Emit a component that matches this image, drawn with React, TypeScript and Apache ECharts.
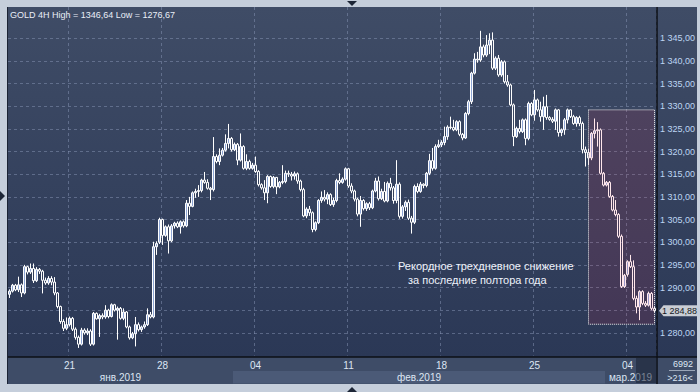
import React, { useEffect, useRef } from "react";
import * as echarts from "echarts";

// Each bar: [open, close, low, high]  (GOLD, 4H)
const week0 = [
  [1288.5, 1289.2, 1287.7, 1289.6], [1289.2, 1290.5, 1288.9, 1290.8], [1290.5, 1289.5, 1289.2, 1290.8],
  [1289.5, 1290.6, 1289.0, 1292.4], [1290.6, 1288.8, 1287.9, 1290.9], [1288.8, 1294.6, 1288.5, 1295.0],
  [1294.6, 1293.4, 1292.9, 1294.8], [1293.4, 1294.2, 1293.0, 1295.3], [1294.2, 1291.5, 1291.0, 1295.3],
  [1291.5, 1294.0, 1291.2, 1294.5], [1294.0, 1293.6, 1293.0, 1294.3], [1293.6, 1291.6, 1288.7, 1293.9],
  [1291.6, 1291.0, 1290.6, 1292.2], [1291.0, 1292.0, 1290.6, 1292.5], [1292.0, 1291.2, 1290.5, 1292.5],
  [1291.2, 1288.8, 1288.3, 1292.3], [1288.8, 1285.8, 1285.4, 1289.0], [1285.8, 1282.5, 1282.0, 1286.0],
  [1282.5, 1281.0, 1280.4, 1283.0], [1281.0, 1281.8, 1280.6, 1283.4],
];
const week1 = [
  [1281.8, 1283.2, 1281.4, 1283.6], [1283.2, 1280.8, 1280.4, 1283.5], [1280.8, 1279.0, 1278.5, 1281.2],
  [1279.0, 1277.5, 1276.67, 1279.4], [1277.5, 1280.6, 1277.2, 1281.1], [1280.6, 1280.0, 1279.6, 1281.0],
  [1280.0, 1280.4, 1279.5, 1281.0], [1280.4, 1277.5, 1277.1, 1280.8], [1277.5, 1284.3, 1277.2, 1284.6],
  [1284.3, 1283.1, 1282.9, 1284.5], [1283.1, 1283.8, 1279.1, 1284.2], [1283.8, 1283.5, 1283.0, 1284.3],
  [1283.5, 1285.0, 1283.1, 1286.1], [1285.0, 1283.6, 1283.2, 1285.3], [1283.6, 1286.2, 1283.4, 1286.5],
  [1286.2, 1285.0, 1284.7, 1286.4], [1285.0, 1285.4, 1278.5, 1285.8], [1285.4, 1283.2, 1282.9, 1285.7],
  [1283.2, 1284.6, 1282.8, 1285.4], [1284.6, 1281.3, 1281.0, 1284.8], [1281.3, 1278.9, 1278.5, 1281.6],
  [1278.9, 1279.8, 1278.6, 1280.2], [1279.8, 1281.8, 1277.0, 1283.5], [1281.8, 1280.7, 1280.3, 1282.3],
  [1280.7, 1281.3, 1280.2, 1281.6], [1281.3, 1281.8, 1280.9, 1282.5], [1281.8, 1284.0, 1281.5, 1285.4],
  [1284.0, 1283.5, 1283.2, 1284.6], [1283.5, 1299.0, 1283.2, 1300.1], [1299.0, 1299.7, 1297.2, 1300.2],
  [1300.0, 1305.0, 1299.6, 1305.4],
];
const week2 = [
  [1305.0, 1301.5, 1299.4, 1305.2], [1301.5, 1303.4, 1301.2, 1303.7], [1303.4, 1300.3, 1297.5, 1303.9],
  [1300.3, 1303.6, 1300.0, 1304.0], [1303.6, 1304.2, 1303.0, 1304.5], [1304.2, 1303.4, 1303.1, 1304.6],
  [1303.4, 1304.5, 1301.9, 1304.8], [1304.5, 1303.6, 1303.2, 1304.8], [1303.6, 1308.6, 1303.3, 1309.3],
  [1308.6, 1307.9, 1306.0, 1310.0], [1307.9, 1310.9, 1307.7, 1311.2], [1310.9, 1311.2, 1309.8, 1311.8],
  [1311.2, 1311.4, 1310.0, 1312.6], [1311.4, 1313.7, 1311.0, 1314.0], [1313.7, 1313.2, 1312.9, 1315.5],
  [1313.2, 1311.9, 1311.6, 1313.9], [1311.9, 1311.6, 1309.3, 1312.2], [1311.6, 1318.9, 1311.2, 1323.2],
  [1318.9, 1317.8, 1317.4, 1319.4], [1317.8, 1319.2, 1317.0, 1320.7], [1319.2, 1320.3, 1318.9, 1320.8],
  [1320.3, 1321.8, 1320.0, 1323.8], [1321.8, 1322.9, 1320.7, 1326.1], [1322.9, 1320.4, 1320.0, 1323.2],
  [1320.4, 1321.6, 1320.1, 1322.0], [1321.6, 1318.1, 1317.0, 1321.9], [1318.1, 1321.1, 1317.8, 1324.0],
  [1321.1, 1316.3, 1316.0, 1321.4], [1316.3, 1317.8, 1315.9, 1319.4], [1317.8, 1316.3, 1316.0, 1318.2],
  [1316.3, 1317.0, 1316.0, 1317.5],
];
const week3 = [
  [1317.0, 1315.6, 1315.3, 1318.9], [1315.6, 1312.7, 1312.3, 1315.9], [1312.7, 1312.0, 1311.6, 1313.0],
  [1312.0, 1310.9, 1309.3, 1313.7], [1310.9, 1314.5, 1308.6, 1314.8], [1314.5, 1312.3, 1312.0, 1314.7],
  [1312.3, 1314.3, 1311.9, 1314.6], [1314.3, 1312.2, 1310.6, 1314.4], [1312.2, 1313.2, 1311.9, 1313.5],
  [1313.2, 1313.4, 1312.8, 1317.0], [1313.4, 1315.2, 1313.0, 1315.8], [1315.2, 1315.0, 1314.4, 1315.8],
  [1315.0, 1314.6, 1313.6, 1315.5], [1314.6, 1315.1, 1313.8, 1315.6], [1315.1, 1313.5, 1312.9, 1315.4],
  [1313.5, 1311.6, 1311.2, 1313.8], [1311.6, 1305.8, 1305.5, 1312.0], [1305.8, 1307.3, 1305.3, 1307.7],
  [1307.3, 1306.5, 1305.8, 1308.0], [1306.5, 1302.8, 1302.2, 1306.8], [1302.8, 1304.3, 1302.4, 1304.6],
  [1304.3, 1309.2, 1304.0, 1309.5], [1309.2, 1309.9, 1308.7, 1311.2], [1309.9, 1309.5, 1309.0, 1311.5],
  [1309.5, 1310.5, 1308.4, 1311.0], [1310.5, 1308.3, 1308.0, 1310.8], [1308.3, 1309.2, 1307.8, 1309.8],
  [1309.2, 1313.6, 1308.8, 1314.0], [1313.6, 1313.2, 1312.8, 1315.2], [1313.2, 1313.9, 1312.9, 1314.3],
  [1313.9, 1316.2, 1313.6, 1316.5],
];
const week4 = [
  [1316.2, 1312.4, 1312.0, 1316.4], [1312.4, 1311.3, 1310.8, 1313.0], [1311.3, 1309.5, 1309.0, 1311.6],
  [1309.5, 1306.2, 1305.7, 1309.8], [1306.2, 1309.2, 1303.4, 1310.2], [1309.2, 1307.4, 1307.0, 1309.5],
  [1307.4, 1308.5, 1306.9, 1308.8], [1308.5, 1307.6, 1307.1, 1308.9], [1307.6, 1311.3, 1307.3, 1311.6],
  [1311.3, 1313.5, 1311.0, 1314.2], [1313.5, 1309.6, 1309.2, 1314.5], [1309.6, 1311.2, 1309.3, 1311.8],
  [1311.2, 1309.1, 1308.8, 1313.3], [1309.1, 1313.0, 1308.8, 1313.4], [1313.0, 1312.0, 1311.4, 1314.2],
  [1312.0, 1309.2, 1308.5, 1312.4], [1309.2, 1312.8, 1308.6, 1318.1], [1312.8, 1305.7, 1305.2, 1313.2],
  [1305.7, 1307.8, 1305.2, 1308.2], [1307.8, 1308.8, 1306.9, 1309.2], [1308.8, 1305.3, 1304.9, 1309.4],
  [1305.3, 1304.4, 1301.9, 1305.8], [1304.4, 1312.3, 1304.0, 1312.7], [1312.3, 1311.2, 1310.8, 1313.0],
  [1311.2, 1312.8, 1310.9, 1313.3], [1312.8, 1312.5, 1311.9, 1313.0], [1312.5, 1315.2, 1312.1, 1315.5],
  [1315.2, 1318.0, 1314.8, 1319.5], [1318.0, 1316.3, 1315.8, 1320.8], [1316.3, 1321.1, 1316.0, 1321.6],
  [1321.1, 1321.5, 1320.8, 1322.6],
];
const week5 = [
  [1321.5, 1322.0, 1321.0, 1322.5], [1322.0, 1323.3, 1321.4, 1325.5], [1323.3, 1325.4, 1322.6, 1325.8],
  [1325.4, 1325.3, 1324.9, 1327.7], [1325.3, 1324.8, 1324.5, 1327.0], [1324.8, 1326.6, 1324.5, 1326.9],
  [1326.6, 1323.8, 1323.4, 1326.9], [1323.8, 1323.0, 1322.5, 1324.1], [1323.0, 1328.4, 1322.8, 1328.7],
  [1328.4, 1331.0, 1328.0, 1331.4], [1331.0, 1337.3, 1330.5, 1337.6], [1337.3, 1340.4, 1337.0, 1341.7],
  [1340.4, 1340.2, 1339.6, 1342.0], [1340.2, 1343.1, 1339.8, 1346.64], [1343.1, 1341.3, 1340.8, 1343.6],
  [1341.3, 1343.5, 1340.9, 1345.7], [1343.5, 1344.6, 1341.5, 1346.1], [1344.6, 1338.4, 1338.0, 1346.3],
  [1338.4, 1340.6, 1338.0, 1341.0], [1340.6, 1336.9, 1336.5, 1341.3], [1336.9, 1339.8, 1336.5, 1340.2],
  [1339.8, 1335.4, 1335.0, 1340.1], [1335.4, 1334.7, 1334.3, 1336.9], [1334.7, 1330.3, 1330.0, 1335.0],
  [1330.3, 1323.3, 1321.2, 1330.6], [1323.3, 1325.1, 1323.0, 1325.5], [1325.1, 1324.4, 1324.0, 1327.0],
  [1324.4, 1327.0, 1324.1, 1327.3], [1327.0, 1322.9, 1321.4, 1327.3], [1322.9, 1330.6, 1322.5, 1331.0],
  [1330.6, 1328.1, 1327.8, 1330.9],
];
const week6 = [
  [1328.1, 1331.4, 1326.8, 1333.6], [1331.4, 1329.2, 1328.8, 1331.7], [1329.2, 1327.7, 1326.6, 1331.0],
  [1327.7, 1329.9, 1324.8, 1332.1], [1329.9, 1327.5, 1327.0, 1332.5], [1327.5, 1327.1, 1326.8, 1327.8],
  [1327.1, 1326.7, 1326.3, 1327.6], [1326.7, 1329.2, 1324.8, 1329.5], [1329.2, 1324.2, 1323.3, 1329.4],
  [1324.2, 1324.8, 1323.4, 1325.1], [1324.8, 1327.0, 1323.7, 1327.4], [1327.0, 1329.2, 1326.2, 1329.5],
  [1329.2, 1327.7, 1327.4, 1329.3], [1327.7, 1326.2, 1325.9, 1328.1], [1326.2, 1327.5, 1325.5, 1327.8],
  [1327.5, 1326.2, 1325.6, 1327.9], [1326.2, 1320.4, 1319.6, 1326.6], [1320.4, 1319.8, 1316.7, 1321.1],
  [1319.8, 1318.6, 1317.0, 1320.6], [1318.6, 1324.0, 1318.1, 1324.3], [1324.0, 1324.6, 1322.9, 1327.3],
  [1324.6, 1324.8, 1321.1, 1326.5], [1324.8, 1315.2, 1314.9, 1325.1], [1315.2, 1312.6, 1312.3, 1315.5],
  [1312.6, 1313.2, 1312.3, 1313.5], [1313.2, 1310.1, 1309.8, 1313.5], [1310.1, 1307.1, 1306.8, 1310.4],
  [1307.1, 1306.1, 1305.7, 1309.3], [1306.1, 1301.3, 1300.9, 1306.4], [1301.3, 1290.2, 1289.9, 1301.7],
  [1290.2, 1292.7, 1289.9, 1293.0],
];
const week7 = [
  [1292.9, 1295.7, 1292.4, 1296.0], [1295.7, 1294.6, 1294.3, 1297.2], [1294.6, 1287.6, 1287.2, 1296.0],
  [1287.6, 1285.7, 1284.3, 1288.2], [1285.7, 1289.1, 1282.8, 1289.4], [1289.1, 1286.5, 1286.1, 1289.4],
  [1286.5, 1286.1, 1285.7, 1287.0], [1286.1, 1288.7, 1285.8, 1289.1], [1288.7, 1285.4, 1285.0, 1289.0],
  [1285.4, 1284.88, 1284.5, 1285.8],
];

const bars = [...week0, ...week1, ...week2, ...week3, ...week4, ...week5, ...week6, ...week7];
const categories = bars.map((_, i) => String(i));

const weekStartIdx = [20, 51, 82, 113, 144, 175, 206];
const weekLabels = ["21", "28", "04", "11", "18", "25", "04"];
const monthStartIdx = [0, 75, 199];
const monthLabels = ["янв.2019", "фев.2019", "мар.2019"];
const yTicks = [1280, 1285, 1290, 1295, 1300, 1305, 1310, 1315, 1320, 1325, 1330, 1335, 1340, 1345];
const lastPrice = 1284.88;
const titleText = "GOLD 4H High = 1346,64 Low = 1276,67";
const boxFromIdx = 193;
const boxToIdx = 215;
const boxHigh = 1329.2;
const boxLow = 1281.9;
const noteLines = ["Рекордное трехдневное снижение", "за последние полтора года"];
const totalBars = "6992";
const visibleBars = ">216<";

const FONT = "'Liberation Sans', Arial, sans-serif";

const fmtPrice = (v: number) => {
  const s = v.toFixed(2);
  const [ip, dp] = s.split(".");
  return ip.slice(0, ip.length - 3) + " " + ip.slice(-3) + "," + dp;
};

const PL = 8;
const PT = 7;
const PW = 648;
const PH = 348.5;
const FRAME_R = 697;
const AXIS_Y = 357;
const AXIS_B = 384;
const SEP_X = 657;

export default function App() {
  const ref = useRef<HTMLDivElement>(null);

  useEffect(() => {
    if (!ref.current) return;
    const chart = echarts.init(ref.current, null, { renderer: "svg" });

    const option: any = {
      animation: false,
      backgroundColor: "#c5cedb",
      grid: { left: PL, top: PT, width: PW, height: PH, containLabel: false },
      xAxis: {
        type: "category",
        data: categories,
        boundaryGap: true,
        axisLine: { show: false },
        axisTick: { show: false },
        axisLabel: {
          interval: (idx: number) => weekStartIdx.includes(idx),
          formatter: (_v: string, idx: number) => weekLabels[weekStartIdx.indexOf(idx)] ?? "",
          color: "#dde6f3",
          fontSize: 10,
          fontFamily: FONT,
          margin: 5,
        },
        splitLine: {
          show: true,
          interval: (idx: number) => weekStartIdx.includes(idx),
          lineStyle: { color: "rgba(135,150,182,0.5)", type: [3, 3], width: 1 },
        },
      },
      yAxis: {
        type: "value",
        position: "right",
        min: 1275,
        max: 1351.9,
        interval: 5,
        scale: true,
        axisLine: { show: false },
        axisTick: { show: false },
        splitLine: { show: false },
        axisLabel: {
          formatter: (v: number) =>
            yTicks.some((t) => Math.abs(t - v) < 0.01) && Math.abs(v - lastPrice) > 2 ? fmtPrice(v) : "",
          color: "#bdd6f3",
          fontSize: 9,
          fontFamily: FONT,
          margin: 4,
          showMinLabel: true,
          showMaxLabel: true,
        },
      },
      series: [
        {
          type: "candlestick",
          data: bars,
          barWidth: 2,
          itemStyle: {
            color: "#8ea6d6",
            color0: "rgba(0,0,0,0)",
            borderColor: "#ffffff",
            borderColor0: "#ffffff",
            borderWidth: 1,
          },
          markLine: {
            z: 1,
            silent: true,
            symbol: ["none", "none"],
            label: { show: false },
            lineStyle: { color: "rgba(135,150,182,0.5)", type: [3, 3], width: 1 },
            data: yTicks.map((v) => ({ yAxis: v })),
          },
          markArea: {
            z: 5,
            silent: true,
            itemStyle: {
              color: "rgba(255,40,70,0.11)",
              borderColor: "#f2f2f2",
              borderWidth: 1,
              borderType: [1, 1],
            },
            label: { show: false },
            data: [[
              { xAxis: categories[boxFromIdx], yAxis: boxHigh },
              { xAxis: categories[boxToIdx], yAxis: boxLow },
            ]],
          },
        },
      ],
    };

    chart.setOption(option);

    const cx = (i: number) => chart.convertToPixel({ xAxisIndex: 0 }, i) as number;
    const py = (v: number) => chart.convertToPixel({ yAxisIndex: 0 }, v) as number;
    const half = (cx(1) - cx(0)) / 2;
    const n = bars.length;

    const grad = () =>
      new echarts.graphic.LinearGradient(0, 0, 0, 1, [
        { offset: 0, color: "#3f4c66" },
        { offset: 1, color: "#2b3856" },
      ]);

    const txt = (text: string, x: number, y: number, font: string, fill: string, align = "left", z = 60) => ({
      type: "text",
      z,
      style: { text, x, y, fill, font, align, verticalAlign: "middle", textAlign: align, textVerticalAlign: "middle" },
    });

    const els: any[] = [];
    els.push({ type: "rect", z: -10, shape: { x: PL, y: PT, width: SEP_X - PL, height: AXIS_Y - PT }, style: { fill: grad() } });
    els.push({ type: "rect", z: -10, shape: { x: SEP_X, y: PT, width: FRAME_R - SEP_X, height: AXIS_Y - PT }, style: { fill: grad() } });
    els.push({ type: "rect", z: -10, shape: { x: PL, y: AXIS_Y, width: FRAME_R - PL, height: AXIS_B - AXIS_Y }, style: { fill: "#3e4c67" } });

    monthStartIdx.forEach((start, k) => {
      const x0 = cx(start) - half;
      const x1 = k < monthStartIdx.length - 1 ? cx(monthStartIdx[k + 1]) - half : cx(n - 1) + half;
      if (k % 2 === 1) {
        els.push({ type: "rect", z: -9, shape: { x: x0, y: 371, width: x1 - x0, height: 12.5 }, style: { fill: "#4b5a77" } });
      }
      els.push(txt(monthLabels[k], (x0 + x1) / 2, 377.5, `10px ${FONT}`, "#dde6f3", "center", 20));
    });
    els.push({ type: "rect", z: 30, shape: { x: cx(n - 1) + half - 20, y: AXIS_Y + 1, width: 20, height: AXIS_B - AXIS_Y - 2 }, style: { fill: "rgba(20,28,46,0.5)" } });

    els.push({ type: "line", z: 40, shape: { x1: PL, y1: AXIS_Y, x2: FRAME_R, y2: AXIS_Y }, style: { stroke: "#0c0f16", lineWidth: 1.5 } });
    els.push({ type: "line", z: 40, shape: { x1: SEP_X, y1: PT, x2: SEP_X, y2: AXIS_B }, style: { stroke: "#0c0f16", lineWidth: 1.5 } });
    els.push({ type: "line", z: 40, shape: { x1: 7.5, y1: PT, x2: 7.5, y2: AXIS_B }, style: { stroke: "#1b2334", lineWidth: 1 } });

    els.push(txt(totalBars, 683, 364, `9px ${FONT}`, "#dde6f3", "center", 40));
    els.push({ type: "line", z: 40, shape: { x1: 669, y1: 370.5, x2: 695, y2: 370.5 }, style: { stroke: "#9aa6b8", lineWidth: 1 } });
    els.push(txt(visibleBars, 680, 378, `9px ${FONT}`, "#dde6f3", "center", 40));

    const yp = py(lastPrice);
    els.push({
      type: "polygon", z: 50,
      shape: { points: [[659, yp], [663.5, yp - 5.5], [FRAME_R, yp - 5.5], [FRAME_R, yp + 5.5], [663.5, yp + 5.5]] },
      style: { fill: "#c9cdd4" },
    });
    els.push(txt(fmtPrice(lastPrice), 662, yp + 0.5, `9px ${FONT}`, "#15181e", "left", 51));

    els.push(txt(titleText, 10, 15, `9px ${FONT}`, "#e9eef7"));
    els.push(txt(noteLines[0], 398, 266, `11px ${FONT}`, "#eef2fa"));
    els.push(txt(noteLines[1], 408, 279.5, `11px ${FONT}`, "#eef2fa"));

    els.push({ type: "polygon", z: 60, shape: { points: [[347, 1], [357, 1], [352, 6]] }, style: { fill: "#1d2637" } });
    els.push({ type: "polygon", z: 60, shape: { points: [[347, 392], [357, 392], [352, 387]] }, style: { fill: "#1d2637" } });
    els.push({ type: "polygon", z: 60, shape: { points: [[0, 191], [0, 201], [5, 196]] }, style: { fill: "#1d2637" } });

    chart.setOption({ graphic: { elements: els } });

    return () => chart.dispose();
  }, []);

  return <div ref={ref} style={{ position: "fixed", left: 0, top: 0, width: 700, height: 392 }} />;
}
